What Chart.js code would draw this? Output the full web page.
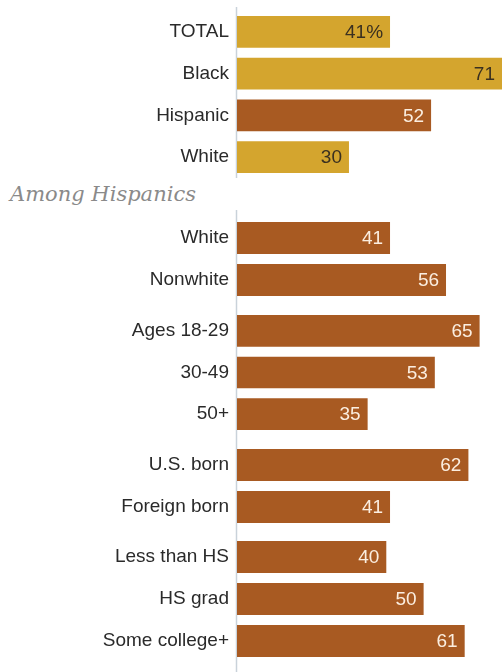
<!DOCTYPE html>
<html>
<head>
<meta charset="utf-8">
<script src="https://cdn.jsdelivr.net/npm/chart.js@4/dist/chart.umd.min.js"></script>
<style>
  body { margin: 0; background: #fff; width: 502px; height: 672px; position: relative; overflow: hidden; }
  .box { position: absolute; left: 0; width: 502px; }
  #subhead { position: absolute; left: 10px; top: 182px; font-family: "DejaVu Serif", serif; font-style: italic; font-size: 21px; color: #8a8a8a; }
</style>
</head>
<body>
<div class="box" id="b0" style="top:7px;height:171px"><canvas id="c0"></canvas></div>
<div id="subhead">Among Hispanics</div>
<div class="box" id="b1" style="top:210px;height:95px"><canvas id="c1"></canvas></div>
<div class="box" id="b2" style="top:305px;height:135px"><canvas id="c2"></canvas></div>
<div class="box" id="b3" style="top:440px;height:92px"><canvas id="c3"></canvas></div>
<div class="box" id="b4" style="top:532px;height:140px"><canvas id="c4"></canvas></div>
<script>
var GOLD = "#d4a52e";
var BROWN = "#a85a22";

// overall
var totalLabels = ["TOTAL", "Black", "Hispanic", "White"];
var totalValues = [41, 71, 52, 30];
var totalColors = [GOLD, GOLD, BROWN, GOLD];

// among Hispanics
var raceLabels = ["White", "Nonwhite"];
var raceValues = [41, 56];
var ageLabels = ["Ages 18-29", "30-49", "50+"];
var ageValues = [65, 53, 35];
var nativityLabels = ["U.S. born", "Foreign born"];
var nativityValues = [62, 41];
var eduLabels = ["Less than HS", "HS grad", "Some college+"];
var eduValues = [40, 50, 61];

var fontFamily = "'Liberation Sans', Arial, sans-serif";
var labelFont = "19px " + fontFamily;

var axisLine = {
  id: "axisLine",
  beforeDatasetsDraw: function (chart) {
    var ctx = chart.ctx;
    var x = Math.round(chart.chartArea.left) - 0.5;
    ctx.save();
    ctx.strokeStyle = "#c9d2da";
    ctx.lineWidth = 1.5;
    ctx.beginPath();
    ctx.moveTo(x, 0);
    ctx.lineTo(x, chart.height);
    ctx.stroke();
    ctx.restore();
  }
};

var valueLabels = {
  id: "valueLabels",
  afterDatasetsDraw: function (chart) {
    var ctx = chart.ctx;
    var ds = chart.data.datasets[0];
    var meta = chart.getDatasetMeta(0);
    ctx.save();
    ctx.font = labelFont;
    ctx.textAlign = "right";
    ctx.textBaseline = "middle";
    meta.data.forEach(function (bar, i) {
      var txt = String(ds.data[i]);
      if (ds.pctFirst && i === 0) txt += "%";
      ctx.fillStyle = ds.backgroundColor[i] === GOLD ? "#3a3020" : "#fbeee0";
      ctx.fillText(txt, bar.x - 7, bar.y + 1);
    });
    ctx.restore();
  }
};

function makeChart(id, labels, values, colors, padTop, padBottom, pctFirst) {
  var ctx = document.getElementById(id).getContext("2d");
  return new Chart(ctx, {
    type: "bar",
    data: {
      labels: labels,
      datasets: [
        {
          data: values,
          backgroundColor: colors,
          barPercentage: 0.76,
          categoryPercentage: 1,
          pctFirst: pctFirst
        }
      ]
    },
    options: {
      indexAxis: "y",
      responsive: true,
      maintainAspectRatio: false,
      animation: false,
      layout: { padding: { top: padTop, bottom: padBottom, left: 0, right: 0 } },
      scales: {
        x: { display: false, min: 0, max: 71 },
        y: {
          afterFit: function (scale) {
            scale.width = 237;
            scale.paddingTop = 0;
            scale.paddingBottom = 0;
          },
          grid: { display: false, drawTicks: false },
          border: { display: false },
          ticks: {
            color: "#2a2a2a",
            padding: 8,
            font: { family: fontFamily, size: 19 }
          }
        }
      },
      plugins: {
        legend: { display: false },
        tooltip: { enabled: false }
      }
    },
    plugins: [axisLine, valueLabels]
  });
}

function fill(n, c) {
  var out = [];
  for (var i = 0; i < n; i++) out.push(c);
  return out;
}

makeChart("c0", totalLabels, totalValues, totalColors, 4, 0, true);
makeChart("c1", raceLabels, raceValues, fill(raceValues.length, BROWN), 7, 4, false);
makeChart("c2", ageLabels, ageValues, fill(ageValues.length, BROWN), 5, 5, false);
makeChart("c3", nativityLabels, nativityValues, fill(nativityValues.length, BROWN), 4, 4, false);
makeChart("c4", eduLabels, eduValues, fill(eduValues.length, BROWN), 4, 10, false);
</script>
</body>
</html>
